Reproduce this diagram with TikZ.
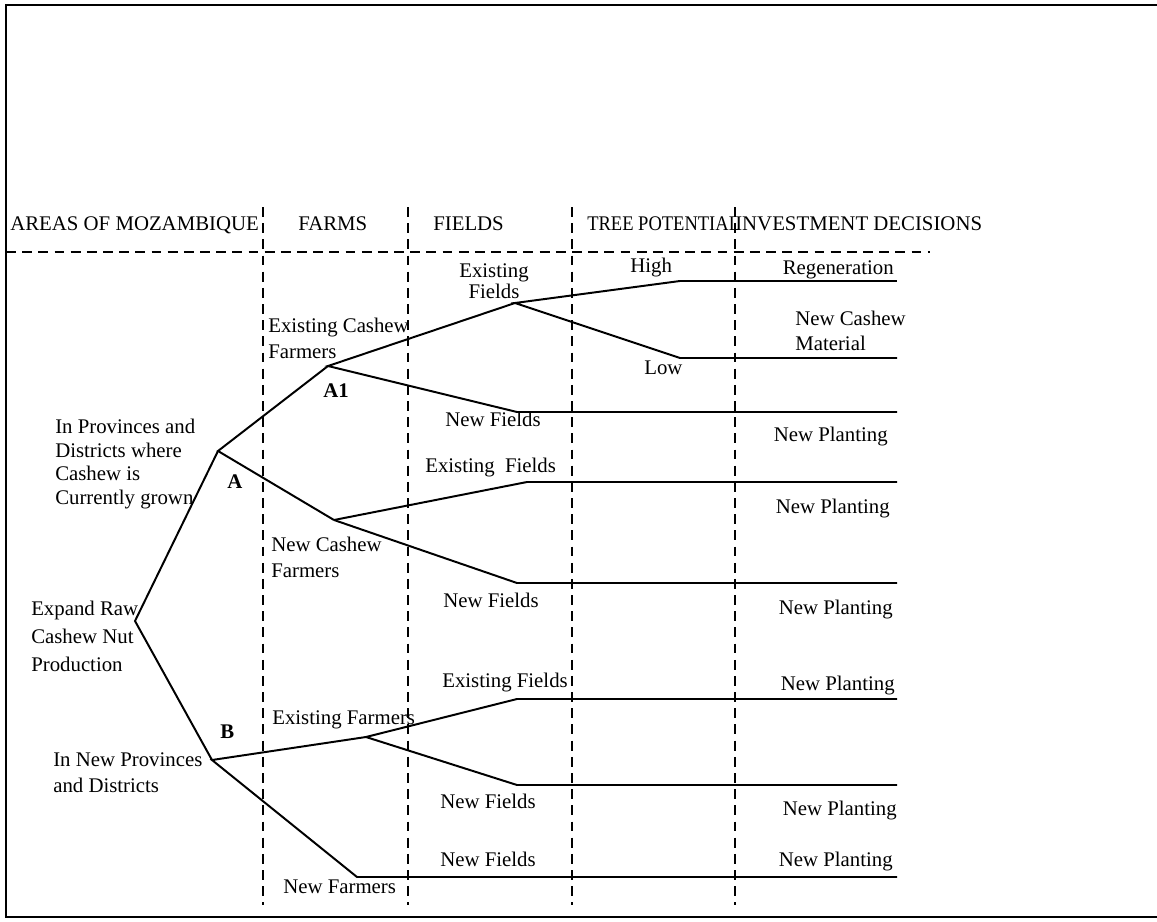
\documentclass[tikz,border=0pt]{standalone}
\usepackage{fontspec}
\setmainfont{Liberation Serif}
\usetikzlibrary{calc}

\begin{document}
\begin{tikzpicture}[x=0.025cm, y=-0.025cm,
  lbl/.style={inner sep=0pt, anchor=base west, font=\fontsize{14.8}{17}\selectfont},
  rlbl/.style={lbl, anchor=base east},
  blk/.style={inner sep=0pt, anchor=north west, align=left},
  branch/.style={line width=1.4pt, line join=miter},
  divider/.style={line width=1.1pt, dash pattern=on 7pt off 4.5pt}]
\useasboundingbox (0,0) rectangle (1157,921);

% frame
\draw[line width=1.8pt] (1157,5) -- (6,5) -- (6,917) -- (1157,917);

% column dividers
\foreach \x in {263,408,572,735}
  \draw[divider] (\x,207) -- (\x,905);
\draw[divider] (6,252) -- (930,252);

% headings
\node[lbl] (hareas) at (10,230) {AREAS OF MOZAMBIQUE};
\node[lbl] (hfarms) at (298,230) {FARMS};
\node[lbl] (hfields) at (433,230) {FIELDS};
\node[lbl] (htree) at (587,230) {\scalebox{0.89}[1]{TREE POTENTIAL}};
\node[lbl] (hinvest) at (735,230) {INVESTMENT DECISIONS};

% tree points
\coordinate (root) at (135,621);
\coordinate (A) at (218,451);
\coordinate (B) at (212,760);
\coordinate (A1) at (328,366);
\coordinate (A2) at (334,520);
\coordinate (B1) at (366,737);
\coordinate (B2) at (357,877);
\coordinate (F1) at (515,303);
\coordinate (F2) at (517,412);
\coordinate (F3) at (527,482);
\coordinate (F4) at (517,583);
\coordinate (F5) at (517,699);
\coordinate (F6) at (517,785);
\coordinate (P1) at (680,281);
\coordinate (P2) at (680,358);
\foreach \n/\y in {1/281,2/358,3/412,4/482,5/583,6/699,7/785,8/877}
  \coordinate (e\n) at (897,\y);

% branches
\draw[branch] (A) -- (root) -- (B);
\draw[branch] (A1) -- (A) -- (A2);
\draw[branch] (B1) -- (B) -- (B2) -- (e8);
\draw[branch] (F1) -- (A1) -- (F2) -- (e3);
\draw[branch] (P1) -- (F1) -- (P2) -- (e2);
\draw[branch] (P1) -- (e1);
\draw[branch] (A2) -- (F3) -- (e4);
\draw[branch] (A2) -- (F4) -- (e5);
\draw[branch] (B1) -- (F5) -- (e6);
\draw[branch] (B1) -- (F6) -- (e7);

% areas
\node[lbl, blk, font=\fontsize{14.8}{16.8}\selectfont] (lcur) at (55,419) {In Provinces and\\Districts where\\Cashew is\\Currently grown};
\node[lbl, blk, font=\fontsize{14.8}{19.8}\selectfont] (lexpand) at (31,601) {Expand Raw\\Cashew Nut\\Production};
\node[lbl, blk, font=\fontsize{14.8}{18.7}\selectfont] (lnew) at (53,752) {In New Provinces\\and Districts};
\node[lbl, font=\fontsize{14.8}{17}\bfseries] (la) at (227,488) {A};
\node[lbl, font=\fontsize{14.8}{17}\bfseries] (lb) at (220,738) {B};
\node[lbl, font=\fontsize{14.8}{17}\bfseries] (la1) at (323,397) {A1};

% farms
\node[lbl, blk, font=\fontsize{14.8}{18}\selectfont] (lexcash) at (268,318) {Existing Cashew\\Farmers};
\node[lbl, blk, font=\fontsize{14.8}{18}\selectfont] (lnewcash) at (271,537) {New Cashew\\Farmers};
\node[lbl] (lexfarm) at (272,724) {Existing Farmers};
\node[lbl] (lnewfarm) at (283,893) {New Farmers};

% fields
\node[lbl, blk, anchor=north, align=center, font=\fontsize{14.8}{15}\selectfont] (lfield1) at (494,263) {Existing\\Fields};
\node[lbl] (lfield2) at (445,426) {New Fields};
\node[lbl] (lfield3) at (425,472) {Existing\ \ Fields};
\node[lbl] (lfield4) at (443,607) {New Fields};
\node[lbl] (lfield5) at (442,687) {Existing Fields};
\node[lbl] (lfield6) at (440,808) {New Fields};
\node[lbl] (lfield7) at (440,866) {New Fields};

% tree potential
\node[lbl] (lhigh) at (630,272) {High};
\node[lbl] (llow) at (644,374) {Low};

% decisions
\node[rlbl] (dregen) at (894,274) {Regeneration};
\node[lbl, blk, font=\fontsize{14.8}{17.3}\selectfont] (dmat) at (795,311) {New Cashew\\Material};
\node[rlbl] (dplant1) at (888,441) {New Planting};
\node[rlbl] (dplant2) at (890,513) {New Planting};
\node[rlbl] (dplant3) at (893,614) {New Planting};
\node[rlbl] (dplant4) at (895,690) {New Planting};
\node[rlbl] (dplant5) at (897,815) {New Planting};
\node[rlbl] (dplant6) at (893,866) {New Planting};
\end{tikzpicture}
\end{document}
